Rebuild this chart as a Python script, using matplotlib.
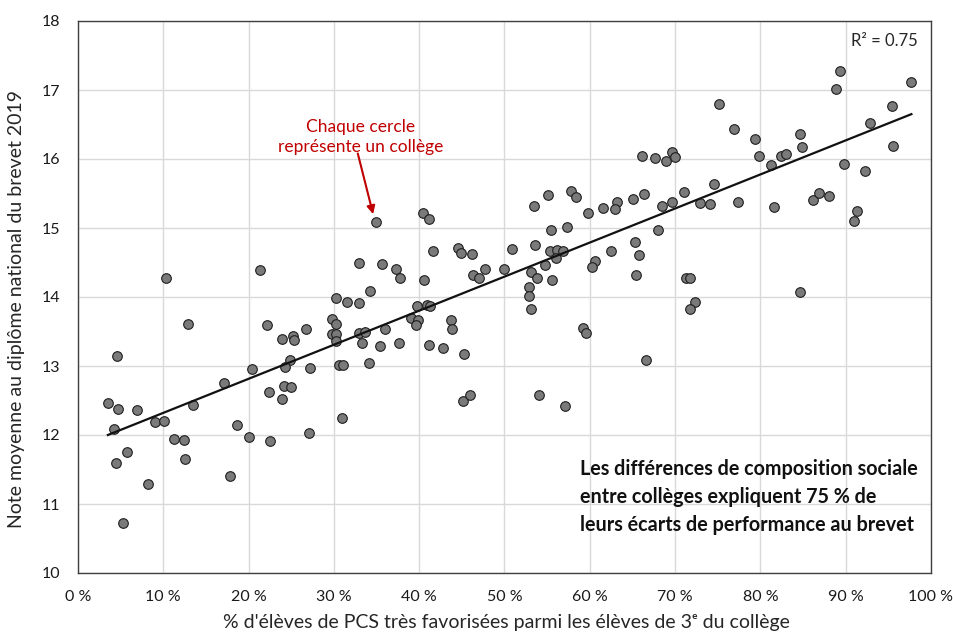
import numpy as np
import matplotlib
matplotlib.use("Agg")
import matplotlib.pyplot as plt

plt.rcParams['font.family'] = ['Lato', 'DejaVu Sans']

pcs_share = [
    10.3, 21.3, 12.9, 4.6, 22.2, 23.9, 25.2, 25.3, 26.7, 24.8, 24.3, 27.2, 20.4, 17.1, 13.5, 3.5, 4.7, 6.9,
    4.2, 9.0, 10.1, 11.2, 12.4, 12.5, 5.7, 4.4, 8.2, 5.3, 18.6, 20.0, 17.8, 22.5, 22.4, 23.9, 24.1, 25.0, 27.1,
    34.9, 40.4, 41.2, 53.4, 53.6, 41.6, 44.6, 44.9, 46.2, 50.9, 32.9, 35.6, 37.3, 37.7, 40.6, 46.3, 47.0, 47.7,
    50.0, 53.1, 53.8, 52.9, 52.9, 53.1, 34.2, 30.3, 31.5, 32.9, 39.7, 40.9, 41.3, 29.8, 30.3, 39.0, 39.9, 39.6,
    43.7, 43.8, 29.8, 30.3, 30.3, 33.0, 33.6, 33.3, 36.0, 35.4, 37.6, 41.1, 42.8, 45.3, 30.6, 31.1, 34.1, 31.0,
    45.1, 45.9, 54.0,
    76.9, 66.1, 67.6, 68.9, 69.6, 70.0, 74.6, 71.1, 77.4, 72.9, 74.1, 69.6, 68.5, 66.4, 65.1, 63.2, 63.0, 61.5,
    59.8, 57.8, 58.4, 55.1, 55.5, 57.3, 55.3, 56.1, 56.9, 56.0, 54.7, 55.6, 60.6, 60.2, 62.5, 65.3, 65.8, 65.4,
    68.0, 71.3, 71.7, 72.3, 71.8, 59.2, 59.6, 66.6, 57.1,
    89.3, 88.9, 97.7, 95.4, 75.1, 92.9, 79.4, 84.6, 84.9, 95.5, 79.8, 82.4, 83.0, 81.2, 89.8, 92.3, 81.6, 86.2,
    86.9, 88.1, 91.3, 91.0, 84.6,
]
brevet_score = [
    14.28, 14.39, 13.61, 13.14, 13.60, 13.39, 13.43, 13.37, 13.54, 13.08, 12.99, 12.97, 12.96, 12.75, 12.44, 12.46, 12.38, 12.36,
    12.08, 12.19, 12.20, 11.94, 11.93, 11.65, 11.76, 11.59, 11.29, 10.72, 12.14, 11.97, 11.41, 11.92, 12.63, 12.52, 12.71, 12.69, 12.03,
    15.09, 15.22, 15.13, 15.32, 14.76, 14.67, 14.71, 14.64, 14.62, 14.70, 14.49, 14.48, 14.40, 14.27, 14.25, 14.32, 14.27, 14.40,
    14.41, 14.36, 14.28, 14.15, 14.01, 13.82, 14.09, 13.99, 13.93, 13.91, 13.87, 13.88, 13.87, 13.68, 13.61, 13.69, 13.66, 13.59,
    13.66, 13.53, 13.46, 13.46, 13.36, 13.48, 13.49, 13.34, 13.53, 13.29, 13.34, 13.30, 13.26, 13.18, 13.01, 13.02, 13.05, 12.24,
    12.50, 12.58, 12.58,
    16.43, 16.04, 16.02, 15.97, 16.10, 16.03, 15.64, 15.52, 15.37, 15.36, 15.35, 15.37, 15.32, 15.50, 15.42, 15.37, 15.27, 15.29,
    15.22, 15.53, 15.45, 15.48, 14.97, 15.01, 14.66, 14.68, 14.66, 14.57, 14.46, 14.25, 14.52, 14.44, 14.66, 14.80, 14.61, 14.32,
    14.97, 14.28, 14.27, 13.93, 13.83, 13.55, 13.48, 13.08, 12.42,
    17.28, 17.02, 17.11, 16.77, 16.80, 16.52, 16.29, 16.36, 16.18, 16.19, 16.04, 16.04, 16.07, 15.92, 15.93, 15.83, 15.30, 15.40,
    15.51, 15.47, 15.24, 15.10, 14.07,
]
trend_x = [3.5, 97.7]
trend_y = [12.0, 16.65]
x_ticks = [0, 10, 20, 30, 40, 50, 60, 70, 80, 90, 100]
x_tick_labels = ["0 %", "10 %", "20 %", "30 %", "40 %", "50 %", "60 %", "70 %", "80 %", "90 %", "100 %"]
y_ticks = [10, 11, 12, 13, 14, 15, 16, 17, 18]

W, H = 954, 635
fig = plt.figure(figsize=(W / 100, H / 100), dpi=100)
ax = fig.add_axes([78 / W, 1 - 573 / H, (931 - 78) / W, (573 - 21) / H])

ax.set_xlim(0, 100)
ax.set_ylim(10, 18)
ax.set_xticks(x_ticks)
ax.set_xticklabels(x_tick_labels)
ax.set_yticks(y_ticks)
ax.grid(True, color='#d9d9d9', linewidth=1.0)
ax.set_axisbelow(True)
ax.tick_params(length=0, labelsize=11.5, colors='#1a1a1a')
ax.tick_params(axis='y', pad=13)
ax.tick_params(axis='x', pad=12)
for s in ax.spines.values():
    s.set_color('#404040')
    s.set_linewidth(1.0)

ax.scatter(pcs_share, brevet_score, s=48, facecolor='#7a7a7a', edgecolor='#1e1e1e', linewidth=0.8, zorder=3)
ax.plot(trend_x, trend_y, color='#111111', linewidth=1.6, zorder=4)

ax.set_xlabel("% d'élèves de PCS très favorisées parmi les élèves de 3ᵉ du collège",
              fontsize=14, color='#262626')
ax.xaxis.set_label_coords(0.502, -0.074)
ax.set_ylabel("Note moyenne au diplôme national du brevet 2019", fontsize=14, color='#262626')
ax.yaxis.set_label_coords(-0.062, 0.478)

ax.text(98.4, 17.71, "R² = 0.75", fontsize=12, ha='right', va='center', color='#262626')

ax.text(33.1, 16.32, "Chaque cercle\nreprésente un collège", ha='center', va='center',
        fontsize=12.5, color='#c00000', linespacing=1.3)
ax.annotate("", xy=(34.6, 15.20), xytext=(32.8, 16.08),
            arrowprops=dict(arrowstyle='-|>', color='#c00000', lw=1.5, mutation_scale=12,
                            shrinkA=0, shrinkB=0))

ax.text(58.8, 11.10, "Les différences de composition sociale\nentre collèges expliquent 75 % de\nleurs écarts de performance au brevet",
        fontsize=14.2, fontweight='bold', ha='left', va='center', color='#111111', linespacing=1.5)

fig.savefig("out.png", dpi=100, facecolor='white')
